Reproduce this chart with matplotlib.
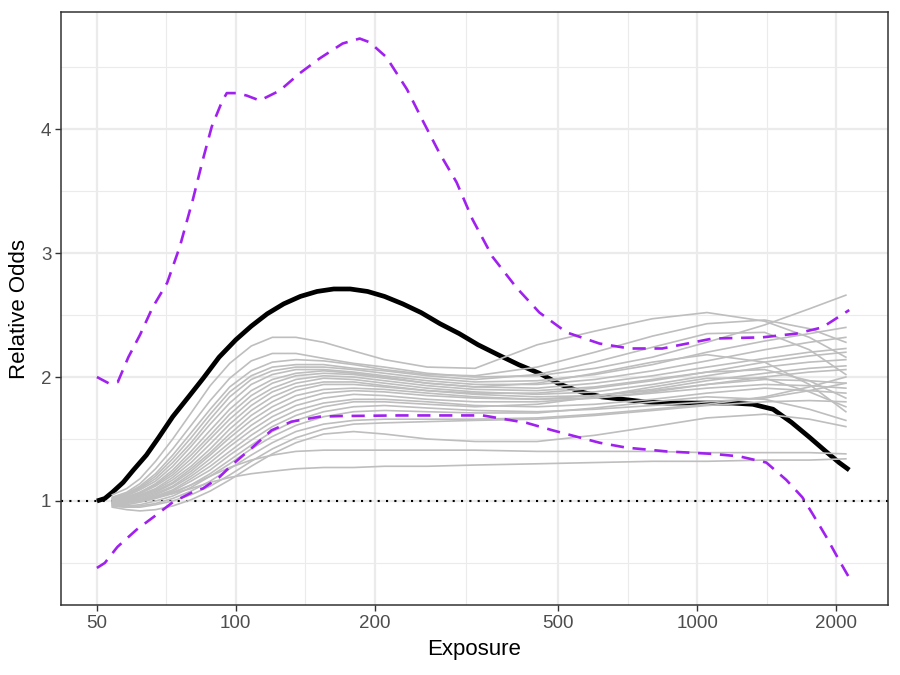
import matplotlib
matplotlib.use('Agg')
import matplotlib.pyplot as plt
import numpy as np

plt.rcParams['font.family'] = ['Liberation Sans', 'DejaVu Sans']

# simulated curves, read at a common exposure grid
grid_x = [54, 58, 62, 67, 73, 80, 88, 97, 108, 120, 135, 155, 180, 210, 260, 330, 450,
          600, 800, 1050, 1400, 1750, 2100]
gray_curves = [
    [1.05, 1.10, 1.18, 1.32, 1.50, 1.71, 1.93, 2.11, 2.25, 2.32, 2.32, 2.28, 2.21, 2.14, 2.08, 2.07, 2.26, 2.37, 2.47, 2.52, 2.45, 2.32, 2.16],
    [1.03, 1.07, 1.14, 1.26, 1.42, 1.61, 1.81, 1.99, 2.13, 2.19, 2.19, 2.15, 2.11, 2.08, 2.03, 2.00, 2.01, 2.07, 2.16, 2.28, 2.42, 2.55, 2.66],
    [1.03, 1.06, 1.12, 1.22, 1.37, 1.55, 1.74, 1.92, 2.05, 2.12, 2.14, 2.13, 2.10, 2.06, 2.02, 2.01, 2.08, 2.20, 2.33, 2.43, 2.46, 2.39, 2.28],
    [1.02, 1.05, 1.11, 1.20, 1.34, 1.51, 1.70, 1.88, 2.01, 2.08, 2.10, 2.10, 2.07, 2.05, 2.01, 1.98, 2.02, 2.12, 2.24, 2.35, 2.36, 2.22, 2.02],
    [1.02, 1.05, 1.10, 1.18, 1.31, 1.47, 1.66, 1.84, 1.98, 2.05, 2.08, 2.08, 2.06, 2.03, 1.99, 1.96, 1.97, 2.02, 2.10, 2.20, 2.29, 2.35, 2.40],
    [1.01, 1.04, 1.09, 1.16, 1.28, 1.44, 1.62, 1.79, 1.94, 2.02, 2.06, 2.06, 2.04, 2.01, 1.97, 1.94, 1.94, 1.98, 2.05, 2.13, 2.22, 2.28, 2.32],
    [1.01, 1.03, 1.07, 1.14, 1.25, 1.40, 1.57, 1.74, 1.89, 1.98, 2.03, 2.05, 2.03, 2.00, 1.95, 1.92, 1.91, 1.95, 2.01, 2.08, 2.15, 2.20, 2.23],
    [1.01, 1.03, 1.07, 1.13, 1.23, 1.37, 1.53, 1.70, 1.85, 1.95, 2.01, 2.03, 2.02, 1.99, 1.95, 1.92, 1.95, 2.03, 2.12, 2.18, 2.12, 1.94, 1.72],
    [1.00, 1.02, 1.06, 1.12, 1.21, 1.34, 1.50, 1.66, 1.81, 1.91, 1.98, 2.01, 2.00, 1.97, 1.93, 1.90, 1.89, 1.92, 1.98, 2.04, 2.12, 2.17, 2.20],
    [1.00, 1.02, 1.05, 1.10, 1.19, 1.31, 1.46, 1.62, 1.77, 1.88, 1.95, 1.99, 1.98, 1.95, 1.91, 1.88, 1.86, 1.88, 1.94, 2.01, 2.08, 2.12, 2.14],
    [0.99, 1.01, 1.04, 1.09, 1.17, 1.28, 1.42, 1.58, 1.73, 1.84, 1.92, 1.96, 1.96, 1.93, 1.89, 1.86, 1.84, 1.85, 1.90, 1.97, 2.03, 2.07, 2.09],
    [0.99, 1.01, 1.04, 1.08, 1.15, 1.26, 1.39, 1.54, 1.69, 1.80, 1.89, 1.94, 1.94, 1.92, 1.89, 1.87, 1.87, 1.91, 1.97, 2.04, 2.06, 1.97, 1.83],
    [0.99, 1.00, 1.03, 1.07, 1.14, 1.24, 1.37, 1.51, 1.65, 1.76, 1.85, 1.90, 1.91, 1.90, 1.87, 1.84, 1.82, 1.83, 1.88, 1.94, 2.00, 2.04, 2.06],
    [0.99, 1.00, 1.02, 1.06, 1.12, 1.22, 1.34, 1.47, 1.61, 1.72, 1.81, 1.87, 1.89, 1.88, 1.85, 1.83, 1.82, 1.85, 1.89, 1.94, 1.98, 1.97, 1.95],
    [0.98, 0.99, 1.01, 1.05, 1.11, 1.20, 1.31, 1.44, 1.57, 1.68, 1.77, 1.83, 1.86, 1.85, 1.82, 1.80, 1.80, 1.83, 1.87, 1.91, 1.94, 1.93, 1.91],
    [0.98, 0.99, 1.01, 1.04, 1.09, 1.18, 1.28, 1.40, 1.53, 1.64, 1.73, 1.79, 1.82, 1.82, 1.80, 1.77, 1.76, 1.78, 1.82, 1.87, 1.91, 1.89, 1.87],
    [0.98, 0.98, 1.00, 1.03, 1.08, 1.16, 1.25, 1.37, 1.49, 1.60, 1.69, 1.76, 1.80, 1.80, 1.78, 1.76, 1.78, 1.84, 1.92, 1.99, 1.99, 1.88, 1.76],
    [0.97, 0.97, 0.99, 1.02, 1.06, 1.13, 1.22, 1.33, 1.45, 1.56, 1.65, 1.72, 1.76, 1.77, 1.75, 1.73, 1.72, 1.74, 1.77, 1.80, 1.83, 1.89, 1.95],
    [0.97, 0.96, 0.97, 1.00, 1.04, 1.11, 1.20, 1.30, 1.42, 1.52, 1.61, 1.68, 1.72, 1.73, 1.72, 1.71, 1.71, 1.75, 1.80, 1.84, 1.82, 1.74, 1.65],
    [0.96, 0.95, 0.96, 0.98, 1.02, 1.08, 1.16, 1.26, 1.37, 1.47, 1.56, 1.62, 1.65, 1.66, 1.66, 1.66, 1.67, 1.70, 1.74, 1.78, 1.84, 1.92, 2.00],
    [0.96, 0.95, 0.95, 0.97, 1.00, 1.05, 1.12, 1.21, 1.32, 1.42, 1.51, 1.58, 1.62, 1.63, 1.64, 1.65, 1.66, 1.69, 1.73, 1.77, 1.80, 1.81, 1.80],
    [0.95, 0.93, 0.92, 0.93, 0.96, 1.01, 1.08, 1.17, 1.28, 1.38, 1.47, 1.54, 1.56, 1.54, 1.50, 1.48, 1.48, 1.53, 1.60, 1.67, 1.70, 1.66, 1.60],
    [0.98, 0.99, 1.00, 1.03, 1.07, 1.13, 1.20, 1.27, 1.33, 1.37, 1.40, 1.41, 1.41, 1.41, 1.41, 1.41, 1.40, 1.40, 1.40, 1.39, 1.39, 1.39, 1.38],
    [0.99, 1.00, 1.01, 1.03, 1.06, 1.10, 1.15, 1.19, 1.22, 1.24, 1.26, 1.27, 1.27, 1.28, 1.28, 1.29, 1.30, 1.31, 1.32, 1.32, 1.33, 1.33, 1.34],
]

# estimated curve
est_x = [50, 52, 54, 57, 60, 64, 68, 73, 79, 85, 92, 100, 108, 117, 127, 138, 150, 163, 177,
         193, 210, 230, 252, 277, 305, 335, 370, 410, 455, 505, 560, 620, 690, 770, 860, 960,
         1070, 1190, 1320, 1460, 1600, 1750, 1900, 2030, 2136]
est_y = [1.00, 1.02, 1.07, 1.15, 1.25, 1.37, 1.51, 1.68, 1.84, 1.99, 2.16, 2.30, 2.41, 2.51,
         2.59, 2.65, 2.69, 2.71, 2.71, 2.69, 2.65, 2.59, 2.52, 2.43, 2.35, 2.26, 2.18, 2.10,
         2.03, 1.94, 1.88, 1.84, 1.82, 1.80, 1.79, 1.79, 1.79, 1.79, 1.78, 1.74, 1.635, 1.515,
         1.40, 1.31, 1.25]

# upper and lower pointwise bounds
upper_x = [50, 53, 55.5, 58.5, 62, 66, 71, 75.6, 80.7, 84.8, 88.7, 93.3, 95.6, 100.5, 105.6,
           112.7, 124.5, 137.6, 152, 170.4, 185.6, 195, 212, 235, 254, 276, 301, 326, 360,
           406, 455, 521, 614, 713, 840, 1079, 1384, 1640, 1867, 2136]
upper_y = [2.00, 1.95, 1.96, 2.16, 2.34, 2.56, 2.76, 3.05, 3.43, 3.75, 4.02, 4.22, 4.29, 4.29,
           4.27, 4.23, 4.31, 4.45, 4.57, 4.69, 4.73, 4.70, 4.58, 4.32, 4.07, 3.81, 3.57, 3.27,
           2.97, 2.72, 2.52, 2.36, 2.27, 2.23, 2.23, 2.31, 2.32, 2.35, 2.40, 2.54]
lower_x = [50, 52, 55.4, 61, 67.4, 73, 82.4, 84.8, 92, 98, 108.5, 119.5, 132, 152, 168, 226,
           291, 343, 427, 486, 546, 614, 703, 858, 1079, 1234, 1412, 1560, 1690, 1776, 1905,
           2032, 2136]
lower_y = [0.46, 0.50, 0.63, 0.77, 0.89, 0.99, 1.09, 1.10, 1.19, 1.29, 1.43, 1.57, 1.64, 1.68,
           1.685, 1.69, 1.69, 1.69, 1.63, 1.57, 1.52, 1.47, 1.43, 1.40, 1.38, 1.36, 1.31, 1.17,
           1.03, 0.90, 0.71, 0.52, 0.38]

x_ticks = [50, 100, 200, 500, 1000, 2000]
x_minor = [70.7, 141.4, 316.2, 707.1, 1414.2]
y_ticks = [1, 2, 3, 4]
y_minor = [0.5, 1.5, 2.5, 3.5, 4.5]

fig = plt.figure(figsize=(9, 6.75), dpi=100)
ax = fig.add_axes([0.0678, 0.1037, 0.9189, 0.8785])
ax.set_xscale('log')
ax.set_xlim(41.8, 2592)
ax.set_ylim(0.161, 4.944)

for v in x_minor:
    ax.axvline(v, color='#EBEBEB', lw=0.8, zorder=0)
for v in y_minor:
    ax.axhline(v, color='#EBEBEB', lw=0.8, zorder=0)
for v in x_ticks:
    ax.axvline(v, color='#EBEBEB', lw=1.6, zorder=0)
for v in y_ticks:
    ax.axhline(v, color='#EBEBEB', lw=1.6, zorder=0)

ax.axhline(1, color='black', lw=1.5, linestyle=(0, (1, 3)), zorder=1)
ax.plot(est_x, est_y, color='black', lw=3.4, zorder=2, solid_capstyle='butt',
        solid_joinstyle='round')
for ys in gray_curves:
    ax.plot(grid_x, ys, color='#BEBEBE', lw=1.2, zorder=3, solid_joinstyle='round')
ax.plot(upper_x, upper_y, color='#A020F0', lw=1.9, linestyle=(0, (5, 3.3)), zorder=4)
ax.plot(lower_x, lower_y, color='#A020F0', lw=1.9, linestyle=(0, (5, 3.3)), zorder=4)

ax.set_xticks(x_ticks)
ax.set_xticklabels([str(t) for t in x_ticks])
ax.xaxis.set_minor_locator(matplotlib.ticker.NullLocator())
ax.set_yticks(y_ticks)
ax.set_yticklabels([str(t) for t in y_ticks])
ax.tick_params(axis='both', length=4, width=1, color='#333333', labelcolor='#4D4D4D',
               labelsize=13.5, pad=3)
for s in ax.spines.values():
    s.set_color('#333333')
    s.set_linewidth(1.1)
ax.set_xlabel('Exposure', fontsize=16, labelpad=5)
ax.set_ylabel('Relative Odds', fontsize=16, labelpad=8)

fig.savefig('out.png', dpi=100)
